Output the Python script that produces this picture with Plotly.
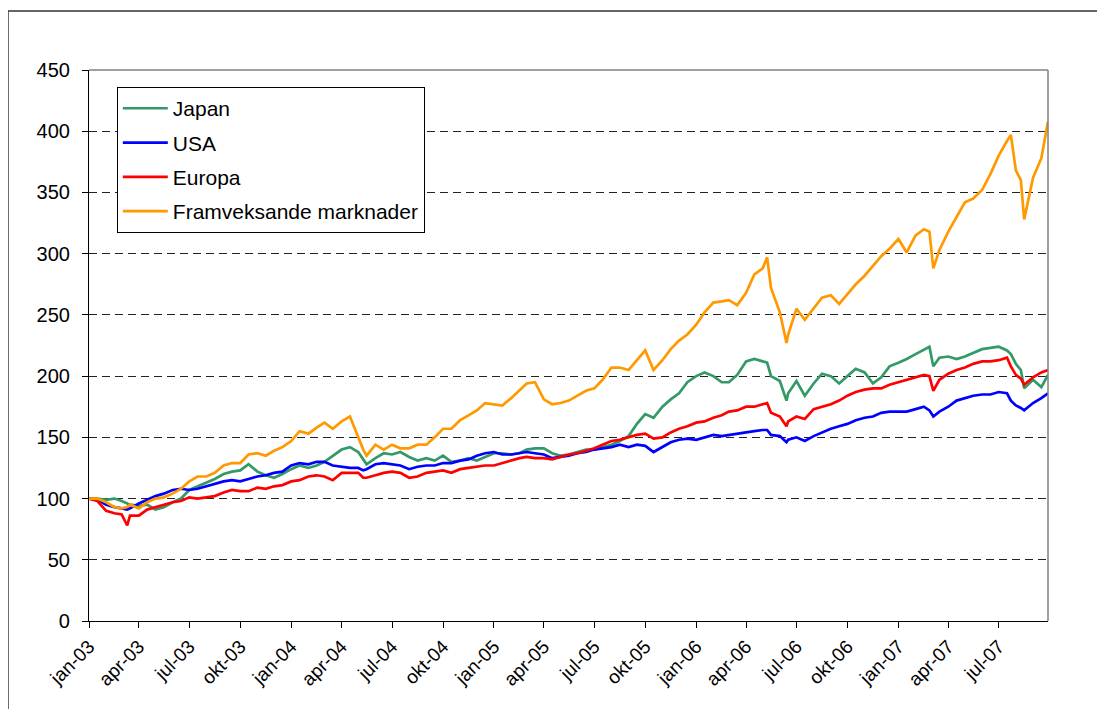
import plotly.graph_objects as go

# ---- data ----
dates = [
    # 2003
    "2003-01-01", "2003-01-16", "2003-02-01", "2003-02-16", "2003-03-01", "2003-03-11", "2003-03-16",
    "2003-04-01", "2003-04-16", "2003-05-01", "2003-05-16", "2003-06-01", "2003-06-16", "2003-07-01",
    "2003-07-16", "2003-08-01", "2003-08-16", "2003-09-01", "2003-09-16", "2003-10-01", "2003-10-16",
    "2003-11-01", "2003-11-16", "2003-12-01", "2003-12-16",
    # 2004
    "2004-01-01", "2004-01-16", "2004-02-01", "2004-02-16", "2004-03-01", "2004-03-16", "2004-04-01",
    "2004-04-16", "2004-05-01", "2004-05-10", "2004-05-16", "2004-06-01", "2004-06-16", "2004-07-01",
    "2004-07-16", "2004-08-01", "2004-08-16", "2004-09-01", "2004-09-16", "2004-10-01", "2004-10-16",
    "2004-11-01", "2004-11-16", "2004-12-01", "2004-12-16",
    # 2005
    "2005-01-01", "2005-01-16", "2005-02-01", "2005-02-16", "2005-03-01", "2005-03-16", "2005-04-01",
    "2005-04-16", "2005-05-01", "2005-05-16", "2005-06-01", "2005-06-16", "2005-07-01", "2005-07-16",
    "2005-08-01", "2005-08-16", "2005-09-01", "2005-09-16", "2005-10-01", "2005-10-16", "2005-11-01",
    "2005-11-16", "2005-12-01", "2005-12-16",
    # 2006
    "2006-01-01", "2006-01-16", "2006-02-01", "2006-02-16", "2006-03-01", "2006-03-16", "2006-04-01",
    "2006-04-16", "2006-05-01", "2006-05-09", "2006-05-16", "2006-06-01", "2006-06-13", "2006-06-16",
    "2006-07-01", "2006-07-16", "2006-08-01", "2006-08-16", "2006-09-01", "2006-09-16", "2006-10-01",
    "2006-10-16", "2006-11-01", "2006-11-16", "2006-12-01", "2006-12-16",
    # 2007
    "2007-01-01", "2007-01-16", "2007-02-01", "2007-02-16", "2007-02-26", "2007-03-05", "2007-03-16",
    "2007-04-01", "2007-04-16", "2007-05-01", "2007-05-16", "2007-06-01", "2007-06-16", "2007-07-01",
    "2007-07-16", "2007-07-23", "2007-08-01", "2007-08-10", "2007-08-16", "2007-09-01", "2007-09-16",
    "2007-09-28",
]

japan = [
    100, 100, 99, 100, 98, 96, 95, 94, 95, 91, 93, 97, 100, 107, 110, 113, 116, 120, 122, 123, 128, 122, 119, 117, 120,
    124, 127, 125, 127, 130, 135, 140, 142, 138, 132, 128, 133, 137, 136, 138, 134, 131, 133, 131, 135, 130, 131, 133, 131, 134,
    137, 137, 136, 137, 140, 141, 141, 137, 135, 136, 138, 140, 140, 142, 144, 147, 151, 161, 169, 166, 175, 181, 186, 195,
    200, 203, 200, 195, 195, 201, 212, 214, 212, 211, 200, 196, 180, 186, 196, 184, 194, 202, 200, 194, 200, 206, 203, 194, 199, 208,
    211, 214, 218, 222, 224, 208, 215, 216, 214, 216, 219, 222, 223, 224, 221, 218, 210, 205, 190, 197, 191, 201,
]

usa = [
    100, 99, 95, 93, 92, 91, 92, 96, 99, 102, 104, 107, 108, 107, 108, 110, 112, 114, 115, 114, 116, 118, 119, 121, 122,
    127, 129, 128, 130, 130, 127, 126, 125, 125, 123, 124, 128, 129, 128, 127, 124, 126, 127, 127, 129, 129, 131, 132, 135, 137,
    138, 136, 136, 137, 138, 137, 136, 133, 134, 135, 137, 138, 140, 141, 142, 144, 142, 144, 143, 138, 142, 146, 148, 149,
    148, 150, 152, 151, 152, 153, 154, 155, 156, 156, 152, 151, 146, 148, 150, 147, 151, 154, 157, 159, 161, 164, 166, 167, 170, 171,
    171, 171, 173, 175, 172, 167, 171, 175, 180, 182, 184, 185, 185, 187, 186, 180, 176, 174, 172, 178, 182, 186,
]

europa = [
    100, 98, 90, 88, 87, 78, 86, 86, 91, 93, 95, 97, 98, 101, 100, 101, 102, 105, 107, 106, 106, 109, 108, 110, 111,
    114, 115, 118, 119, 118, 115, 121, 121, 121, 117, 117, 119, 121, 122, 121, 117, 118, 121, 122, 123, 121, 124, 125, 126, 127,
    127, 129, 131, 133, 134, 133, 133, 132, 134, 136, 137, 139, 141, 144, 147, 148, 150, 152, 153, 149, 150, 154, 157, 159,
    162, 163, 166, 168, 171, 172, 175, 175, 177, 178, 170, 167, 159, 163, 167, 165, 173, 175, 177, 180, 184, 187, 189, 190, 190, 193,
    195, 197, 199, 201, 200, 188, 197, 202, 205, 207, 210, 212, 212, 213, 215, 208, 201, 198, 193, 199, 203, 205,
]

framveksande = [
    100, 100, 97, 93, 92, 93, 95, 92, 97, 100, 101, 104, 108, 114, 118, 118, 121, 127, 129, 129, 136, 137, 135, 139, 142,
    147, 155, 153, 158, 162, 157, 163, 167, 150, 140, 135, 144, 140, 144, 141, 141, 144, 144, 150, 157, 157, 164, 168, 172, 178,
    177, 176, 182, 188, 194, 195, 181, 177, 178, 180, 184, 188, 190, 197, 207, 207, 205, 213, 221, 205, 213, 222, 229, 234,
    242, 252, 260, 261, 262, 258, 268, 283, 288, 297, 272, 252, 227, 234, 255, 246, 255, 264, 266, 259, 267, 275, 282, 290, 298, 304,
    312, 301, 315, 320, 318, 288, 303, 318, 330, 342, 345, 352, 365, 380, 392, 397, 368, 360, 328, 362, 378, 408,
]

series_names = ["Japan", "USA", "Europa", "Framveksande marknader"]
series_values = [japan, usa, europa, framveksande]
series_colors = ["#339966", "#0000FF", "#FF0000", "#FF9900"]

tick_dates = [
    "2003-01-01", "2003-04-01", "2003-07-01", "2003-10-01",
    "2004-01-01", "2004-04-01", "2004-07-01", "2004-10-01",
    "2005-01-01", "2005-04-01", "2005-07-01", "2005-10-01",
    "2006-01-01", "2006-04-01", "2006-07-01", "2006-10-01",
    "2007-01-01", "2007-04-01", "2007-07-01",
]
tick_labels = [
    "jan-03", "apr-03", "jul-03", "okt-03",
    "jan-04", "apr-04", "jul-04", "okt-04",
    "jan-05", "apr-05", "jul-05", "okt-05",
    "jan-06", "apr-06", "jul-06", "okt-06",
    "jan-07", "apr-07", "jul-07",
]

FONT = "Liberation Sans, Arial, sans-serif"

fig = go.Figure()
for i, (name, vals, col) in enumerate(zip(series_names, series_values, series_colors)):
    n = min(len(dates), len(vals))
    fig.add_trace(go.Scatter(
        x=dates[:n], y=vals[:n], mode="lines", name=name,
        line=dict(color=col, width=2.7), legendgroup=f"g{i}",
    ))

fig.update_layout(
    width=1105, height=709,
    margin=dict(l=81, r=65, t=62, b=96),
    paper_bgcolor="white", plot_bgcolor="white",
    font=dict(family=FONT, size=20, color="black"),
    showlegend=True,
    legend=dict(
        x=0.029, y=0.969, xanchor="left", yanchor="top",
        bgcolor="white", bordercolor="black", borderwidth=1,
        font=dict(family=FONT, size=21, color="black"),
        traceorder="grouped", tracegroupgap=4,
        itemwidth=45,
    ),
    xaxis=dict(
        type="date", range=["2003-01-01", "2007-09-28"],
        tickmode="array", tickvals=tick_dates, ticktext=tick_labels,
        tickangle=-45, ticks="outside", ticklen=6, tickcolor="black",
        showline=True, linecolor="black", linewidth=1.2,
        showgrid=False, zeroline=False,
        tickfont=dict(family=FONT, size=19, color="black"),
    ),
    yaxis=dict(
        range=[0, 450], tick0=0, dtick=50,
        ticks="outside", ticklen=6, tickcolor="black",
        ticklabelstandoff=8,
        showline=True, linecolor="black", linewidth=1.2,
        showgrid=True, gridcolor="#222222", gridwidth=1, griddash="8px,5px",
        zeroline=False,
        tickfont=dict(family=FONT, size=20, color="black"),
    ),
)

# plot-area border (grey, top and right) and outer chart frame
fig.add_shape(type="line", xref="paper", yref="paper", x0=0, x1=1, y0=1, y1=1,
              line=dict(color="#808080", width=1.5), layer="above")
fig.add_shape(type="line", xref="paper", yref="paper", x0=1, x1=1, y0=0, y1=1,
              line=dict(color="#808080", width=1.5), layer="above")
fig.add_shape(type="rect", xref="paper", yref="paper",
              x0=-0.0845, x1=1.2, y0=-0.25, y1=1.107,
              line=dict(color="#333333", width=1.5), fillcolor="rgba(0,0,0,0)", layer="below")

fig.write_html("out.html")
